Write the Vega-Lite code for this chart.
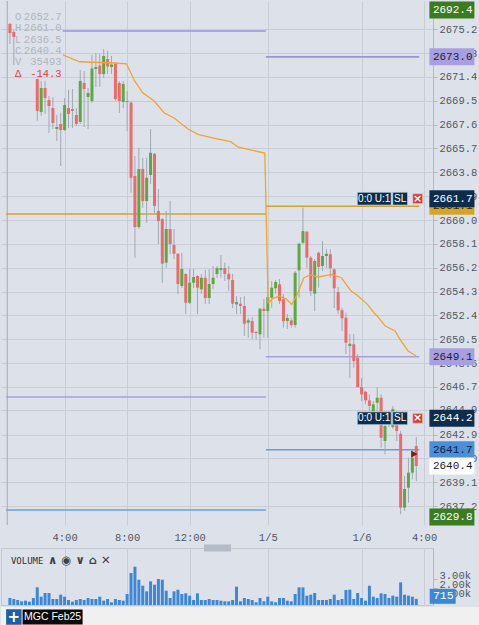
{
  "$schema": "https://vega.github.io/schema/vega-lite/v6.json",
  "padding": 0,
  "background": "#dde2ea",
  "config": {
    "view": {"stroke": null},
    "axis": {"labelFont": "Liberation Mono", "labelFontSize": 10.5, "labelColor": "#50565e", "gridColor": "#c8cdd6"}
  },
  "spacing": 1,
  "resolve": {"scale": {"x": "independent", "y": "independent"}},
  "datasets": {
    "candles": [
      {"t":0.5,"open":2675.62,"high":2675.70,"low":2674.02,"close":2674.90},
      {"t":0.75,"open":2674.98,"high":2675.14,"low":2672.35,"close":2674.58},
      {"t":2.25,"open":2671.23,"high":2671.30,"low":2667.89,"close":2668.69},
      {"t":2.5,"open":2668.61,"high":2671.08,"low":2668.29,"close":2670.52},
      {"t":2.75,"open":2670.52,"high":2671.08,"low":2668.45,"close":2669.72},
      {"t":3.0,"open":2669.56,"high":2669.88,"low":2666.93,"close":2669.08},
      {"t":3.25,"open":2668.92,"high":2669.80,"low":2667.25,"close":2667.73},
      {"t":3.5,"open":2667.25,"high":2668.37,"low":2666.30,"close":2667.41},
      {"t":3.75,"open":2667.65,"high":2668.53,"low":2664.30,"close":2667.17},
      {"t":4.0,"open":2667.17,"high":2669.72,"low":2667.09,"close":2669.16},
      {"t":4.25,"open":2668.92,"high":2670.36,"low":2667.33,"close":2668.45},
      {"t":4.5,"open":2668.84,"high":2670.44,"low":2667.33,"close":2668.69},
      {"t":4.75,"open":2668.37,"high":2668.92,"low":2667.49,"close":2667.65},
      {"t":5.0,"open":2667.81,"high":2671.95,"low":2667.65,"close":2671.08},
      {"t":5.25,"open":2670.92,"high":2671.87,"low":2667.41,"close":2670.44},
      {"t":5.5,"open":2669.80,"high":2670.52,"low":2667.25,"close":2670.12},
      {"t":5.75,"open":2669.48,"high":2673.15,"low":2669.32,"close":2672.07},
      {"t":6.0,"open":2672.03,"high":2673.31,"low":2670.60,"close":2672.19},
      {"t":6.25,"open":2672.31,"high":2673.23,"low":2670.60,"close":2671.63},
      {"t":6.5,"open":2671.63,"high":2673.63,"low":2671.31,"close":2673.07},
      {"t":6.75,"open":2672.83,"high":2673.47,"low":2671.63,"close":2672.23},
      {"t":7.0,"open":2672.19,"high":2673.07,"low":2671.63,"close":2672.39},
      {"t":7.25,"open":2672.43,"high":2672.59,"low":2669.48,"close":2669.64},
      {"t":7.5,"open":2670.92,"high":2671.08,"low":2668.53,"close":2669.48},
      {"t":7.75,"open":2669.40,"high":2671.08,"low":2668.92,"close":2670.84},
      {"t":8.0,"open":2669.48,"high":2670.28,"low":2667.09,"close":2669.40},
      {"t":8.25,"open":2669.35,"high":2669.48,"low":2662.18,"close":2663.37},
      {"t":8.5,"open":2663.51,"high":2665.10,"low":2657.00,"close":2659.44},
      {"t":8.75,"open":2659.44,"high":2665.76,"low":2659.30,"close":2664.06},
      {"t":9.0,"open":2664.06,"high":2664.96,"low":2660.98,"close":2661.51},
      {"t":9.25,"open":2661.51,"high":2664.96,"low":2659.78,"close":2663.37},
      {"t":9.5,"open":2663.59,"high":2667.25,"low":2662.87,"close":2665.36},
      {"t":9.75,"open":2665.28,"high":2665.34,"low":2660.56,"close":2661.12},
      {"t":10.0,"open":2660.72,"high":2662.47,"low":2658.09,"close":2659.92},
      {"t":10.25,"open":2660.08,"high":2660.15,"low":2655.00,"close":2656.52},
      {"t":10.5,"open":2656.60,"high":2660.72,"low":2656.20,"close":2659.28},
      {"t":10.75,"open":2659.28,"high":2661.51,"low":2657.29,"close":2658.09},
      {"t":11.0,"open":2658.01,"high":2659.28,"low":2656.89,"close":2657.31},
      {"t":11.25,"open":2657.31,"high":2657.37,"low":2654.10,"close":2654.90},
      {"t":11.5,"open":2654.74,"high":2657.37,"low":2654.58,"close":2656.10},
      {"t":11.75,"open":2655.70,"high":2655.75,"low":2652.51,"close":2653.41},
      {"t":12.0,"open":2653.41,"high":2656.10,"low":2653.31,"close":2655.00},
      {"t":12.25,"open":2655.00,"high":2656.10,"low":2654.58,"close":2655.46},
      {"t":12.5,"open":2655.54,"high":2655.60,"low":2652.51,"close":2654.61},
      {"t":12.75,"open":2654.48,"high":2655.70,"low":2654.10,"close":2655.40},
      {"t":13.0,"open":2655.40,"high":2656.02,"low":2653.31,"close":2653.78},
      {"t":13.25,"open":2653.78,"high":2656.10,"low":2653.31,"close":2654.90},
      {"t":13.5,"open":2654.90,"high":2656.34,"low":2654.50,"close":2655.40},
      {"t":13.75,"open":2655.70,"high":2656.34,"low":2655.38,"close":2656.17},
      {"t":14.0,"open":2656.02,"high":2657.21,"low":2655.40,"close":2656.17},
      {"t":14.25,"open":2656.17,"high":2656.60,"low":2655.14,"close":2655.70},
      {"t":14.5,"open":2655.72,"high":2656.34,"low":2654.34,"close":2655.27},
      {"t":14.75,"open":2655.22,"high":2655.70,"low":2652.99,"close":2653.33},
      {"t":15.0,"open":2653.28,"high":2653.94,"low":2652.49,"close":2653.47},
      {"t":15.25,"open":2653.33,"high":2653.86,"low":2652.51,"close":2653.15},
      {"t":15.5,"open":2653.15,"high":2653.94,"low":2650.76,"close":2651.74},
      {"t":15.75,"open":2651.82,"high":2652.22,"low":2650.62,"close":2652.01},
      {"t":16.0,"open":2651.95,"high":2652.27,"low":2650.52,"close":2651.02},
      {"t":16.25,"open":2651.07,"high":2651.16,"low":2650.49,"close":2650.99},
      {"t":16.5,"open":2650.89,"high":2653.01,"low":2649.70,"close":2652.93},
      {"t":16.75,"open":2652.93,"high":2653.71,"low":2650.62,"close":2652.75},
      {"t":17.0,"open":2652.75,"high":2655.14,"low":2650.62,"close":2653.86},
      {"t":17.25,"open":2653.81,"high":2655.14,"low":2653.01,"close":2654.61},
      {"t":17.5,"open":2654.56,"high":2655.22,"low":2654.10,"close":2655.06},
      {"t":17.75,"open":2654.88,"high":2655.30,"low":2653.31,"close":2653.55},
      {"t":18.0,"open":2653.68,"high":2654.10,"low":2651.42,"close":2651.95},
      {"t":18.25,"open":2651.95,"high":2652.51,"low":2651.32,"close":2652.19},
      {"t":18.5,"open":2652.01,"high":2652.22,"low":2651.42,"close":2651.63},
      {"t":18.75,"open":2651.63,"high":2655.94,"low":2651.42,"close":2655.80},
      {"t":19.0,"open":2655.99,"high":2658.19,"low":2653.81,"close":2658.11},
      {"t":19.25,"open":2658.19,"high":2660.98,"low":2658.06,"close":2659.12},
      {"t":19.5,"open":2659.07,"high":2659.12,"low":2656.20,"close":2657.00},
      {"t":19.75,"open":2657.00,"high":2657.13,"low":2653.94,"close":2654.34},
      {"t":20.0,"open":2654.13,"high":2656.89,"low":2652.75,"close":2656.73},
      {"t":20.25,"open":2657.39,"high":2657.47,"low":2654.61,"close":2656.26},
      {"t":20.5,"open":2656.34,"high":2658.33,"low":2655.94,"close":2657.13},
      {"t":20.75,"open":2657.13,"high":2657.67,"low":2656.20,"close":2657.31},
      {"t":21.0,"open":2657.27,"high":2657.67,"low":2655.40,"close":2656.15},
      {"t":21.25,"open":2656.07,"high":2656.15,"low":2652.99,"close":2654.56},
      {"t":21.5,"open":2654.26,"high":2654.66,"low":2652.49,"close":2652.81},
      {"t":21.75,"open":2652.81,"high":2653.01,"low":2651.16,"close":2652.17},
      {"t":22.0,"open":2652.22,"high":2652.61,"low":2649.32,"close":2650.22},
      {"t":22.25,"open":2649.96,"high":2650.92,"low":2647.43,"close":2650.14},
      {"t":22.5,"open":2650.10,"high":2650.92,"low":2648.23,"close":2648.77},
      {"t":22.75,"open":2649.03,"high":2649.30,"low":2646.64,"close":2646.69},
      {"t":23.0,"open":2646.69,"high":2647.43,"low":2645.58,"close":2646.11},
      {"t":23.25,"open":2646.32,"high":2646.37,"low":2645.31,"close":2645.63},
      {"t":23.5,"open":2645.63,"high":2646.11,"low":2644.78,"close":2645.18},
      {"t":23.75,"open":2644.78,"high":2645.58,"low":2644.52,"close":2645.31},
      {"t":24.0,"open":2645.44,"high":2646.69,"low":2644.78,"close":2645.84},
      {"t":24.25,"open":2645.84,"high":2646.11,"low":2641.86,"close":2642.65},
      {"t":24.5,"open":2642.39,"high":2644.78,"low":2641.33,"close":2643.59},
      {"t":24.75,"open":2644.38,"high":2644.78,"low":2643.51,"close":2643.83},
      {"t":25.0,"open":2643.51,"high":2645.18,"low":2643.35,"close":2644.94},
      {"t":25.25,"open":2643.75,"high":2644.78,"low":2642.39,"close":2643.19},
      {"t":25.5,"open":2642.97,"high":2643.19,"low":2636.55,"close":2637.08},
      {"t":25.75,"open":2637.08,"high":2639.60,"low":2636.81,"close":2638.57},
      {"t":26.0,"open":2638.67,"high":2641.06,"low":2637.47,"close":2639.87},
      {"t":26.25,"open":2639.87,"high":2641.73,"low":2639.34,"close":2641.06},
      {"t":26.5,"open":2641.99,"high":2642.71,"low":2639.20,"close":2640.40}
    ],
    "vwap": [
      {"t":3.89,"vwap":2673.15},{"t":4.96,"vwap":2672.61},{"t":7.13,"vwap":2672.51},{"t":7.96,"vwap":2672.45},
      {"t":8.48,"vwap":2671.08},{"t":9.0,"vwap":2670.14},{"t":9.73,"vwap":2669.48},{"t":10.36,"vwap":2668.55},
      {"t":10.98,"vwap":2668.15},{"t":11.92,"vwap":2667.23},{"t":12.54,"vwap":2666.83},{"t":13.38,"vwap":2666.56},
      {"t":14.63,"vwap":2666.24},{"t":15.08,"vwap":2665.82},{"t":15.88,"vwap":2665.58},{"t":16.81,"vwap":2665.34},
      {"t":17.02,"vwap":2653.41},{"t":17.38,"vwap":2653.78},{"t":17.75,"vwap":2653.94},{"t":18.21,"vwap":2653.68},
      {"t":18.53,"vwap":2653.28},{"t":18.89,"vwap":2654.08},{"t":19.31,"vwap":2655.40},{"t":19.73,"vwap":2655.62},
      {"t":20.25,"vwap":2655.46},{"t":21.08,"vwap":2655.67},{"t":21.71,"vwap":2655.40},{"t":22.33,"vwap":2654.34},
      {"t":22.64,"vwap":2654.08},{"t":23.38,"vwap":2653.28},{"t":23.79,"vwap":2652.61},{"t":24.0,"vwap":2652.35},
      {"t":24.52,"vwap":2651.55},{"t":25.14,"vwap":2651.16},{"t":25.46,"vwap":2650.49},{"t":25.98,"vwap":2649.56},
      {"t":26.5,"vwap":2649.16}
    ],
    "levels": [
      {"start":3.875,"end":16.875,"price":2675.06,"kind":"purple"},
      {"start":16.875,"end":26.69,"price":2673.0,"kind":"purple"},
      {"start":0.25,"end":16.875,"price":2660.48,"kind":"gold"},
      {"start":16.875,"end":26.69,"price":2661.1,"kind":"gold"},
      {"start":0.25,"end":16.875,"price":2645.9,"kind":"lavender"},
      {"start":16.875,"end":26.69,"price":2649.1,"kind":"lavender"},
      {"start":0.25,"end":16.875,"price":2636.89,"kind":"blue"},
      {"start":16.875,"end":26.69,"price":2641.7,"kind":"blue"}
    ],
    "labels": [
      {"price":2673.0,"kind":"purple"},
      {"price":2661.7,"kind":"navy"},
      {"price":2649.1,"kind":"purple"},
      {"price":2644.2,"kind":"navy"},
      {"price":2641.7,"kind":"blue"},
      {"price":2640.4,"kind":"white"}
    ],
    "orders": [{"price":2661.7},{"price":2644.2}],
    "volume": [
      {"t":0.5,"volume":807},{"t":0.75,"volume":692},{"t":1.0,"volume":577},{"t":1.25,"volume":423},{"t":1.5,"volume":500},{"t":1.75,"volume":385},{"t":2.0,"volume":807},
      {"t":2.25,"volume":2038},{"t":2.5,"volume":961},{"t":2.75,"volume":1384},{"t":3.0,"volume":1384},{"t":3.25,"volume":692},{"t":3.5,"volume":692},{"t":3.75,"volume":1192},
      {"t":4.0,"volume":961},{"t":4.25,"volume":577},{"t":4.5,"volume":385},{"t":4.75,"volume":577},{"t":5.0,"volume":692},{"t":5.25,"volume":577},{"t":5.5,"volume":807},
      {"t":5.75,"volume":692},{"t":6.0,"volume":692},{"t":6.25,"volume":961},{"t":6.5,"volume":500},{"t":6.75,"volume":692},{"t":7.0,"volume":308},{"t":7.25,"volume":692},
      {"t":7.5,"volume":577},{"t":7.75,"volume":500},{"t":8.0,"volume":1269},{"t":8.25,"volume":3691},{"t":8.5,"volume":4422},{"t":8.75,"volume":2922},{"t":9.0,"volume":2230},
      {"t":9.25,"volume":1576},{"t":9.5,"volume":2730},{"t":9.75,"volume":2345},{"t":10.0,"volume":2999},{"t":10.25,"volume":2922},{"t":10.5,"volume":1653},{"t":10.75,"volume":807},
      {"t":11.0,"volume":1576},{"t":11.25,"volume":1769},{"t":11.5,"volume":1269},{"t":11.75,"volume":1346},{"t":12.0,"volume":1077},{"t":12.25,"volume":577},{"t":12.5,"volume":1346},
      {"t":12.75,"volume":577},{"t":13.0,"volume":577},{"t":13.25,"volume":692},{"t":13.5,"volume":577},{"t":13.75,"volume":577},{"t":14.0,"volume":500},{"t":14.25,"volume":423},
      {"t":14.5,"volume":423},{"t":14.75,"volume":577},{"t":15.0,"volume":2115},{"t":15.25,"volume":423},{"t":15.5,"volume":807},{"t":15.75,"volume":692},{"t":16.0,"volume":577},
      {"t":16.25,"volume":308},{"t":16.5,"volume":807},{"t":16.75,"volume":423},
      {"t":17.0,"volume":961},{"t":17.25,"volume":423},{"t":17.5,"volume":308},{"t":17.75,"volume":807},{"t":18.0,"volume":807},{"t":18.25,"volume":500},{"t":18.5,"volume":423},
      {"t":18.75,"volume":1269},{"t":19.0,"volume":2038},{"t":19.25,"volume":2038},{"t":19.5,"volume":1077},{"t":19.75,"volume":1192},{"t":20.0,"volume":1384},{"t":20.25,"volume":577},
      {"t":20.5,"volume":577},{"t":20.75,"volume":577},{"t":21.0,"volume":692},{"t":21.25,"volume":1192},{"t":21.5,"volume":577},{"t":21.75,"volume":692},{"t":22.0,"volume":1730},
      {"t":22.25,"volume":1769},{"t":22.5,"volume":692},{"t":22.75,"volume":1384},{"t":23.0,"volume":807},{"t":23.25,"volume":500},{"t":23.5,"volume":2230},{"t":23.75,"volume":961},
      {"t":24.0,"volume":807},{"t":24.25,"volume":1346},{"t":24.5,"volume":1269},{"t":24.75,"volume":807},{"t":25.0,"volume":1077},{"t":25.25,"volume":961},{"t":25.5,"volume":2615},
      {"t":25.75,"volume":1192},{"t":26.0,"volume":1077},{"t":26.25,"volume":961},{"t":26.5,"volume":715}
    ]
  },
  "vconcat": [
    {
      "bounds": "flush",
      "spacing": 23,
      "resolve": {"scale": {"x": "independent", "y": "independent"}},
      "vconcat": [
        {
          "width": 432,
          "height": 524,
          "layer": [
            {
              "data": {"name": "levels"},
              "mark": {"type": "rule", "strokeWidth": 1.6},
              "encoding": {
                "x": {"field": "start", "type": "quantitative",
                      "scale": {"domain": [0.25, 27.25], "nice": false, "zero": false},
                      "axis": {"values": [4, 8, 12, 17, 23, 27], "tickCount": 20, "title": null, "grid": true, "domain": false, "ticks": false, "labelPadding": 7, "labelOverlap": false, "labelFlush": false,
                               "labelExpr": "datum.value == 4 ? '4:00' : datum.value == 8 ? '8:00' : datum.value == 12 ? '12:00' : datum.value == 17 ? '1/5' : datum.value == 23 ? '1/6' : '4:00'"}},
                "x2": {"field": "end"},
                "y": {"field": "price", "type": "quantitative",
                      "scale": {"domain": [2635.7, 2677.45], "nice": false, "zero": false, "clamp": true},
                      "axis": {"orient": "right", "title": null, "grid": true, "format": ".1f", "labelOverlap": false, "labelFlush": false, "tickCount": 60,
                               "values": [2675.2, 2673.3, 2671.4, 2669.5, 2667.6, 2665.7, 2663.8, 2661.9, 2660.0, 2658.1, 2656.2, 2654.3, 2652.4, 2650.5, 2648.6, 2646.7, 2644.9, 2642.9, 2641.0, 2639.1, 2637.2],
                               "domainColor": "#b4bac3", "tickColor": "#b4bac3", "tickSize": 4, "labelPadding": 2}},
                "stroke": {"field": "kind", "type": "nominal", "legend": null,
                           "scale": {"domain": ["purple", "gold", "lavender", "blue"], "range": ["#9c92d8", "#d3a22a", "#a79fdc", "#6a9ed9"]}}
              }
            },
            {
              "data": {"values": [{}]},
              "mark": {"type": "rule", "color": "#a3a9b2", "strokeWidth": 1},
              "encoding": {"x": {"datum": 0.33, "type": "quantitative"}}
            },
            {
              "data": {"name": "candles"},
              "mark": {"type": "rule", "color": "#a2a8b0", "strokeWidth": 1},
              "encoding": {
                "x": {"field": "t", "type": "quantitative"},
                "y": {"field": "low", "type": "quantitative"},
                "y2": {"field": "high"}
              }
            },
            {
              "data": {"name": "candles"},
              "mark": {"type": "bar", "width": 3},
              "encoding": {
                "x": {"field": "t", "type": "quantitative"},
                "y": {"field": "open", "type": "quantitative"},
                "y2": {"field": "close"},
                "color": {"condition": {"test": "datum.close >= datum.open", "value": "#5ca842"}, "value": "#ec6a6a"}
              }
            },
            {
              "data": {"name": "vwap"},
              "mark": {"type": "line", "color": "#f3a42a", "strokeWidth": 1.3},
              "encoding": {
                "x": {"field": "t", "type": "quantitative"},
                "y": {"field": "vwap", "type": "quantitative"}
              }
            },
            {
              "data": {"values": [{}]},
              "mark": {"type": "text", "text": ["O", "H", "L", "C", "V"], "lineHeight": 11.35, "align": "center", "baseline": "alphabetic", "font": "Liberation Mono", "fontSize": 10.5, "color": "#b0b5bd"},
              "encoding": {"x": {"datum": 1.03, "type": "quantitative"}, "y": {"datum": 2675.95, "type": "quantitative"}}
            },
            {
              "data": {"values": [{}]},
              "mark": {"type": "text", "text": ["2652.7", "2661.0", "2636.5", "2640.4", "35493"], "lineHeight": 11.35, "align": "right", "baseline": "alphabetic", "font": "Liberation Mono", "fontSize": 10.5, "color": "#b0b5bd"},
              "encoding": {"x": {"datum": 3.8125, "type": "quantitative"}, "y": {"datum": 2675.95, "type": "quantitative"}}
            },
            {
              "data": {"values": [{}]},
              "mark": {"type": "text", "text": "Δ", "align": "center", "baseline": "alphabetic", "font": "Liberation Mono", "fontSize": 10.5, "color": "#e03c3c"},
              "encoding": {"x": {"datum": 1.03, "type": "quantitative"}, "y": {"datum": 2671.43, "type": "quantitative"}}
            },
            {
              "data": {"values": [{}]},
              "mark": {"type": "text", "text": "-14.3", "align": "right", "baseline": "alphabetic", "font": "Liberation Mono", "fontSize": 10.5, "color": "#e03c3c"},
              "encoding": {"x": {"datum": 3.8125, "type": "quantitative"}, "y": {"datum": 2671.43, "type": "quantitative"}}
            },
            {
              "data": {"name": "orders"},
              "mark": {"type": "point", "shape": "M-1,-0.382H1V0.382H-1Z", "size": 1156, "filled": true, "opacity": 1, "fill": "#0e2d4c", "stroke": "#bfe3f7", "strokeWidth": 0.8},
              "encoding": {"x": {"datum": 23.81, "type": "quantitative"}, "y": {"field": "price", "type": "quantitative"}}
            },
            {
              "data": {"name": "orders"},
              "mark": {"type": "text", "text": "0:0 U:1", "align": "center", "baseline": "middle", "font": "Liberation Sans", "fontSize": 10, "color": "#ffffff"},
              "encoding": {"x": {"datum": 23.81, "type": "quantitative"}, "y": {"field": "price", "type": "quantitative"}}
            },
            {
              "data": {"name": "orders"},
              "mark": {"type": "point", "shape": "M-1,-0.867H1V0.867H-1Z", "size": 225, "filled": true, "opacity": 1, "fill": "#0e2d4c", "stroke": "#bfe3f7", "strokeWidth": 0.8},
              "encoding": {"x": {"datum": 25.47, "type": "quantitative"}, "y": {"field": "price", "type": "quantitative"}}
            },
            {
              "data": {"name": "orders"},
              "mark": {"type": "text", "text": "SL", "align": "center", "baseline": "middle", "font": "Liberation Sans", "fontSize": 10, "color": "#ffffff"},
              "encoding": {"x": {"datum": 25.47, "type": "quantitative"}, "y": {"field": "price", "type": "quantitative"}}
            },
            {
              "data": {"name": "orders"},
              "mark": {"type": "point", "shape": "square", "size": 100, "filled": true, "opacity": 1, "fill": "#d43f3a", "stroke": "#f4c6c4", "strokeWidth": 0.8},
              "encoding": {"x": {"datum": 26.59, "type": "quantitative"}, "y": {"field": "price", "type": "quantitative"}}
            },
            {
              "data": {"name": "orders"},
              "mark": {"type": "text", "text": "×", "align": "center", "baseline": "middle", "font": "DejaVu Sans", "fontSize": 11, "fontWeight": "bold", "color": "#ffffff"},
              "encoding": {"x": {"datum": 26.59, "type": "quantitative"}, "y": {"field": "price", "type": "quantitative"}}
            },
            {
              "data": {"values": [{}]},
              "mark": {"type": "point", "shape": "triangle-right", "size": 55, "filled": true, "opacity": 1, "fill": "#7a2410", "strokeWidth": 0},
              "encoding": {"x": {"datum": 26.375, "type": "quantitative"}, "y": {"datum": 2641.35, "type": "quantitative"}}
            },
            {
              "data": {"values": [{"price": 2661.1, "kind": "gold"}]},
              "mark": {"type": "point", "shape": "M-1,-0.378H1V0.378H-1Z", "size": 2025, "filled": true, "opacity": 1, "strokeWidth": 0},
              "encoding": {"x": {"datum": 28.78, "type": "quantitative"}, "y": {"field": "price", "type": "quantitative"},
                           "fill": {"field": "kind", "type": "nominal", "legend": null, "scale": {"domain": ["green", "purple", "gold", "navy", "blue", "white"], "range": ["#3b7c21", "#a89fe0", "#d4a42b", "#0e2d4c", "#4a8fd8", "#ffffff"]}}}
            },
            {
              "data": {"values": [{"price": 2661.1, "kind": "gold"}]},
              "mark": {"type": "text", "align": "left", "baseline": "middle", "font": "Liberation Mono", "fontSize": 11},
              "encoding": {"x": {"datum": 27.5625, "type": "quantitative"}, "y": {"field": "price", "type": "quantitative"},
                           "text": {"field": "price", "type": "quantitative", "format": ".1f"},
                           "color": {"field": "kind", "type": "nominal", "legend": null, "scale": {"domain": ["green", "purple", "gold", "navy", "blue", "white"], "range": ["#ffffff", "#1d1d3a", "#3a2a00", "#ffffff", "#0c2340", "#222222"]}}}
            },
            {
              "data": {"name": "labels"},
              "mark": {"type": "point", "shape": "M-1,-0.378H1V0.378H-1Z", "size": 2025, "filled": true, "opacity": 1, "strokeWidth": 0},
              "encoding": {"x": {"datum": 28.78, "type": "quantitative"}, "y": {"field": "price", "type": "quantitative"},
                           "fill": {"field": "kind", "type": "nominal", "legend": null, "scale": {"domain": ["green", "purple", "gold", "navy", "blue", "white"], "range": ["#3b7c21", "#a89fe0", "#d4a42b", "#0e2d4c", "#4a8fd8", "#ffffff"]}}}
            },
            {
              "data": {"name": "labels"},
              "mark": {"type": "text", "align": "left", "baseline": "middle", "font": "Liberation Mono", "fontSize": 11},
              "encoding": {"x": {"datum": 27.5625, "type": "quantitative"}, "y": {"field": "price", "type": "quantitative"},
                           "text": {"field": "price", "type": "quantitative", "format": ".1f"},
                           "color": {"field": "kind", "type": "nominal", "legend": null, "scale": {"domain": ["green", "purple", "gold", "navy", "blue", "white"], "range": ["#ffffff", "#1d1d3a", "#3a2a00", "#ffffff", "#0c2340", "#222222"]}}}
            },
            {
              "data": {"values": [{"price": 2692.4, "kind": "green"}]},
              "mark": {"type": "point", "shape": "M-1,-0.378H1V0.378H-1Z", "size": 2025, "filled": true, "opacity": 1, "strokeWidth": 0, "yOffset": 9},
              "encoding": {"x": {"datum": 28.78, "type": "quantitative"}, "y": {"field": "price", "type": "quantitative"},
                           "fill": {"field": "kind", "type": "nominal", "legend": null, "scale": {"domain": ["green", "purple", "gold", "navy", "blue", "white"], "range": ["#3b7c21", "#a89fe0", "#d4a42b", "#0e2d4c", "#4a8fd8", "#ffffff"]}}}
            },
            {
              "data": {"values": [{"price": 2692.4, "kind": "green"}]},
              "mark": {"type": "text", "align": "left", "baseline": "middle", "font": "Liberation Mono", "fontSize": 11, "yOffset": 9},
              "encoding": {"x": {"datum": 27.5625, "type": "quantitative"}, "y": {"field": "price", "type": "quantitative"},
                           "text": {"field": "price", "type": "quantitative", "format": ".1f"},
                           "color": {"field": "kind", "type": "nominal", "legend": null, "scale": {"domain": ["green", "purple", "gold", "navy", "blue", "white"], "range": ["#ffffff", "#1d1d3a", "#3a2a00", "#ffffff", "#0c2340", "#222222"]}}}
            },
            {
              "data": {"values": [{"price": 2629.8, "kind": "green"}]},
              "mark": {"type": "point", "shape": "M-1,-0.378H1V0.378H-1Z", "size": 2025, "filled": true, "opacity": 1, "strokeWidth": 0, "yOffset": -8},
              "encoding": {"x": {"datum": 28.78, "type": "quantitative"}, "y": {"field": "price", "type": "quantitative"},
                           "fill": {"field": "kind", "type": "nominal", "legend": null, "scale": {"domain": ["green", "purple", "gold", "navy", "blue", "white"], "range": ["#3b7c21", "#a89fe0", "#d4a42b", "#0e2d4c", "#4a8fd8", "#ffffff"]}}}
            },
            {
              "data": {"values": [{"price": 2629.8, "kind": "green"}]},
              "mark": {"type": "text", "align": "left", "baseline": "middle", "font": "Liberation Mono", "fontSize": 11, "yOffset": -8},
              "encoding": {"x": {"datum": 27.5625, "type": "quantitative"}, "y": {"field": "price", "type": "quantitative"},
                           "text": {"field": "price", "type": "quantitative", "format": ".1f"},
                           "color": {"field": "kind", "type": "nominal", "legend": null, "scale": {"domain": ["green", "purple", "gold", "navy", "blue", "white"], "range": ["#ffffff", "#1d1d3a", "#3a2a00", "#ffffff", "#0c2340", "#222222"]}}}
            }
          ]
        },
        {
          "width": 432,
          "height": 57,
          "view": {"stroke": "#c3c8d1"},
          "layer": [
            {
              "data": {"name": "volume"},
              "mark": {"type": "bar", "width": 3, "color": "#3d87d6"},
              "encoding": {
                "x": {"field": "t", "type": "quantitative", "scale": {"domain": [0.25, 27.25], "nice": false, "zero": false},
                      "axis": {"values": [4, 8, 12, 17, 23, 27], "tickCount": 20, "labels": false, "ticks": false, "domain": false, "grid": true, "title": null}},
                "y": {"field": "volume", "type": "quantitative", "scale": {"domain": [0, 6575], "nice": false},
                      "axis": {"orient": "right", "values": [1000, 2000, 3000], "tickCount": 10, "labelExpr": "format(datum.value / 1000, '.2f') + 'k'", "grid": false, "title": null,
                               "labelBaseline": "alphabetic", "domainColor": "#b4bac3", "tickColor": "#b4bac3", "tickSize": 4, "labelPadding": 2, "labelOverlap": false, "labelFlush": false}}
              }
            },
            {
              "data": {"values": [{}]},
              "mark": {"type": "text", "text": "VOLUME", "align": "left", "baseline": "middle", "font": "DejaVu Sans Mono", "fontSize": 9, "color": "#333333"},
              "encoding": {"x": {"datum": 0.5625, "type": "quantitative"}, "y": {"datum": 5075, "type": "quantitative"}}
            },
            {
              "data": {"values": [{}]},
              "mark": {"type": "text", "text": "∧ ◉ ∨ ⌂ ✕", "align": "left", "baseline": "middle", "font": "DejaVu Sans", "fontSize": 11.5, "fontWeight": "bold", "color": "#404040"},
              "encoding": {"x": {"datum": 2.94, "type": "quantitative"}, "y": {"datum": 5075, "type": "quantitative"}}
            },
            {
              "data": {"values": [{}]},
              "mark": {"type": "point", "shape": "M-1,-0.26H1V0.26H-1Z", "size": 729, "filled": true, "opacity": 1, "fill": "#b5bcc8", "strokeWidth": 0},
              "encoding": {"x": {"datum": 13.78, "type": "quantitative"}, "y": {"datum": 6575, "type": "quantitative"}}
            },
            {
              "data": {"values": [{}]},
              "mark": {"type": "point", "shape": "M-1,-0.577H1V0.577H-1Z", "size": 676, "filled": true, "opacity": 1, "fill": "#3d87d6", "strokeWidth": 0, "yOffset": -2.5},
              "encoding": {"x": {"datum": 28.19, "type": "quantitative"}, "y": {"datum": 715, "type": "quantitative"}}
            },
            {
              "data": {"values": [{}]},
              "mark": {"type": "text", "text": "715", "align": "left", "baseline": "middle", "font": "Liberation Mono", "fontSize": 11.5, "color": "#ffffff", "yOffset": -2.5},
              "encoding": {"x": {"datum": 27.5625, "type": "quantitative"}, "y": {"datum": 715, "type": "quantitative"}}
            }
          ]
        }
      ]
    },
    {
      "width": 479,
      "height": 20,
      "view": {"fill": "#f0f0f0", "stroke": null},
      "data": {"values": [{}]},
      "layer": [
        {
          "mark": {"type": "point", "shape": "square", "size": 240, "filled": true, "opacity": 1, "fill": "#1f5fa6", "strokeWidth": 0},
          "encoding": {"x": {"datum": 0.0268, "type": "quantitative", "scale": {"domain": [0, 1], "nice": false, "zero": false}, "axis": null},
                       "y": {"datum": 0.5, "type": "quantitative", "scale": {"domain": [0, 1], "nice": false}, "axis": null}}
        },
        {
          "mark": {"type": "text", "text": "+", "align": "center", "baseline": "middle", "font": "DejaVu Sans", "fontSize": 15, "fontWeight": "bold", "color": "#ffffff"},
          "encoding": {"x": {"datum": 0.0268, "type": "quantitative"}, "y": {"datum": 0.5, "type": "quantitative"}}
        },
        {
          "mark": {"type": "point", "shape": "M-1,-0.25H1V0.25H-1Z", "size": 3600, "filled": true, "opacity": 1, "fill": "#0a0a0a", "strokeWidth": 0},
          "encoding": {"x": {"datum": 0.1077, "type": "quantitative"}, "y": {"datum": 0.5, "type": "quantitative"}}
        },
        {
          "mark": {"type": "text", "text": "MGC Feb25", "align": "center", "baseline": "middle", "font": "Liberation Sans", "fontSize": 10.5, "color": "#ffffff"},
          "encoding": {"x": {"datum": 0.1077, "type": "quantitative"}, "y": {"datum": 0.5, "type": "quantitative"}}
        }
      ]
    }
  ]
}
